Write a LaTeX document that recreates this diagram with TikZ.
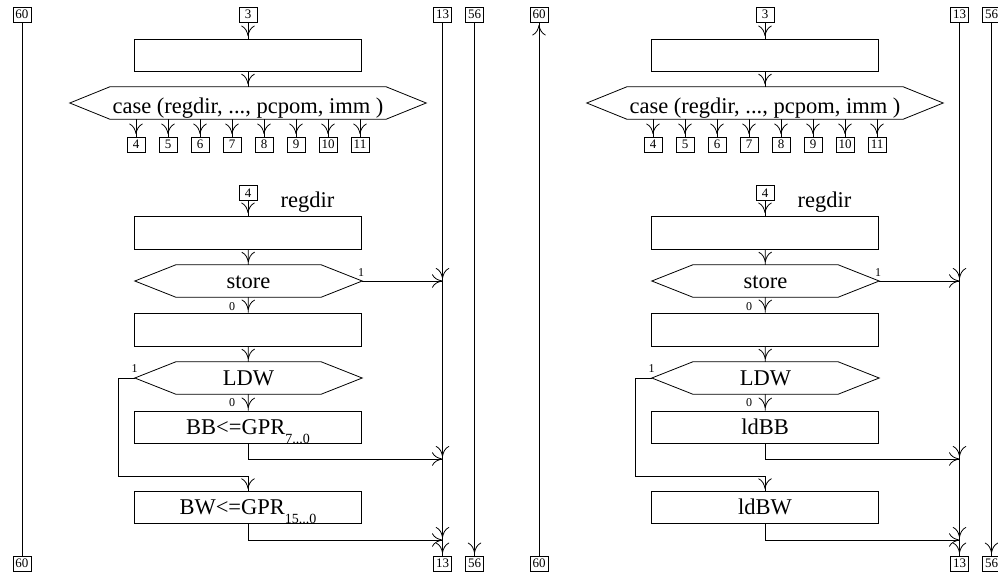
\documentclass[tikz,border=0pt]{standalone}
\usepackage{fontspec}
\setmainfont{Liberation Serif}
\usetikzlibrary{arrows.meta,decorations.markings,calc}

\tikzset{
  wire/.style={line width=0.8pt, draw=black},
  flow/.style={wire, postaction={decorate, decoration={markings,
      mark=at position -2.5pt with {\arrow[line width=0.8pt]{To[length=10.5pt,width=13.5pt]}}}}},
  flowend/.style={wire, -{To[length=10.5pt,width=13.5pt]}},
  tag/.style={draw, line width=0.8pt, font=\fontsize{13}{13}\selectfont,
      minimum width=18pt, minimum height=15pt, inner sep=1pt},
  blk/.style={draw, line width=0.8pt, minimum width=227pt, minimum height=32pt,
      inner sep=0pt, font=\fontsize{22.5}{27}\selectfont, text height=14pt, text depth=0pt},
  hexnode/.style={minimum width=227pt, minimum height=32pt, inner sep=0pt,
      font=\fontsize{22.5}{27}\selectfont, text height=14pt, text depth=0pt},
  bit/.style={font=\fontsize{12}{12}\selectfont, inner sep=0pt},
  note/.style={font=\fontsize{22.5}{27}\selectfont, inner sep=0pt, anchor=base},
}

% hexagonal decision outline around a named node, #2 = corner inset
\newcommand\hexoutline[2]{%
  \draw[wire] (#1.west) -- ([xshift=#2]#1.north west) -- ([xshift=-#2]#1.north east)
    -- (#1.east) -- ([xshift=-#2]#1.south east) -- ([xshift=#2]#1.south west) -- cycle;}

% one complete addressing-mode flow column; #1/#2 = texts of the two load blocks
\newcommand\modeflow[2]{%
  \node[tag] (b3) at (248,14.5) {3};
  \node[tag] (b13t) at (442.5,14.5) {13};
  \node[tag] (b56t) at (474.5,14.5) {56};
  \node[tag] (b13b) at (442.5,563.5) {13};
  \node[tag] (b56b) at (474.5,563.5) {56};
  \node[blk] (blk1) at (248,55) {};
  \node[hexnode, minimum width=356pt, text height=20pt] (case) at (248,103)
    {case (regdir, ..., pcpom, imm )};
  \hexoutline{case}{40pt}
  \draw[flow] (b3) -- (blk1);
  \draw[flow] (blk1) -- (case);
  \foreach \n [count=\i from 0] in {4,...,11} {
    \node[tag] (o\n) at (136+32*\i,144.5) {\n};
    \draw[flow] (o\n |- case.south) -- (o\n);
  }
  % regdir branch
  \node[tag] (b4) at (248,193) {4};
  \node[note] (rd) at (307.5,207) {regdir};
  \node[blk, minimum height=33pt] (blk2) at (248,232.5) {};
  \node[hexnode] (store) at (248.5,281) {store};
  \hexoutline{store}{41pt}
  \node[bit] (s1) at (361,273) {1};
  \node[bit] (s0) at (232,306.5) {0};
  \node[blk, minimum height=33pt] (blk3) at (248,329.5) {};
  \node[hexnode] (ldw) at (248.5,378) {LDW};
  \hexoutline{ldw}{41pt}
  \node[bit] (l1) at (134.5,369) {1};
  \node[bit] (l0) at (232,403) {0};
  \node[blk] (bb) at (248,427) {#1};
  \node[blk, minimum height=31.5pt] (bw) at (248,507.5) {#2};
  \coordinate (j1) at (442.5,281);
  \coordinate (j2) at (442.5,459);
  \coordinate (j3) at (442.5,540);
  \coordinate (lft) at (118,476);
  \draw[flow] (b4) -- (blk2);
  \draw[flow] (blk2) -- (store);
  \draw[flowend] (store.east) -- (j1);
  \draw[flow] (store) -- (blk3);
  \draw[flow] (blk3) -- (ldw);
  \draw[flow] (ldw) -- (bb);
  \draw[flow] (ldw.west) -- (ldw.west -| lft) |- (bw.north |- lft) -- (bw.north);
  \draw[flowend] (bb.south) |- (j2);
  \draw[flowend] (bw.south) |- (j3);
  % exit trunk to 13 and pass-through to 56
  \draw[flow] (b13t) -- (j1);
  \draw[flow] (j1) -- (j2);
  \draw[flow] (j2) -- (j3);
  \draw[flow] (j3) -- (b13b);
  \draw[flow] (b56t) -- (b56b);
  \node[tag] (b60t) at (22,14.5) {60};
  \node[tag] (b60b) at (22,563.5) {60};
}

\begin{document}
\begin{tikzpicture}[x=1pt,y=-1pt]
\useasboundingbox (0,0) rectangle (998,573);
\begin{scope}[name prefix=L-]
  \modeflow{BB<=GPR\raisebox{-9pt}[0pt][0pt]{\fontsize{14}{14}\selectfont 7...0}}
           {BW<=GPR\raisebox{-9pt}[0pt][0pt]{\fontsize{14}{14}\selectfont 15...0}}
  \draw[wire] (b60t) -- (b60b);
\end{scope}
\begin{scope}[xshift=517pt, name prefix=R-]
  \modeflow{ldBB}{ldBW}
  \draw[flow] (b60b) -- (b60t);
\end{scope}
\end{tikzpicture}
\end{document}
